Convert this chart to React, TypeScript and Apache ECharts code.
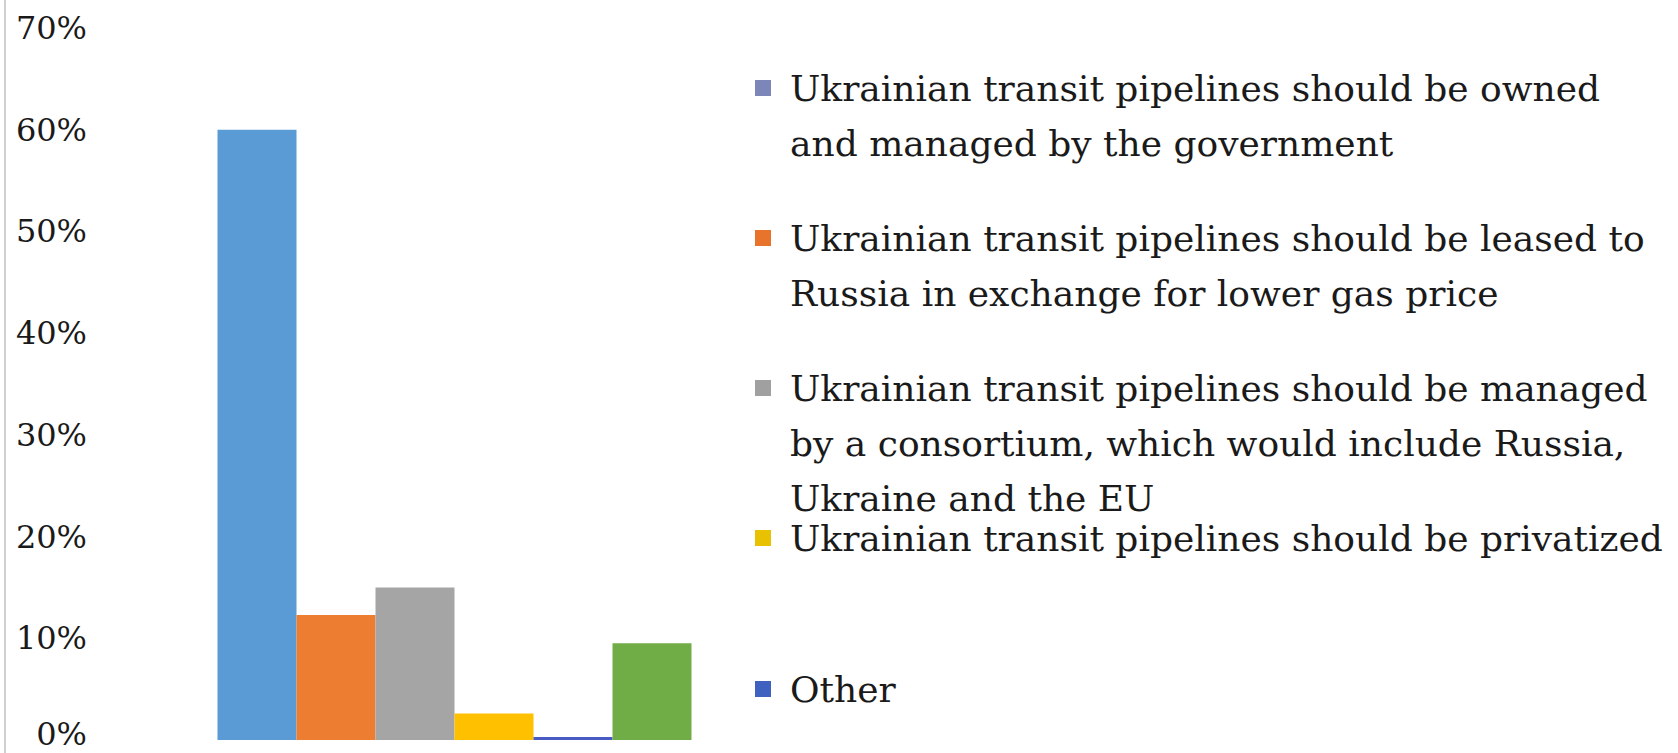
import React, { useEffect, useRef } from "react";
import * as echarts from "echarts";

const categories = [""];
const seriesNames = [
  "Ukrainian transit pipelines should be owned and managed by the government",
  "Ukrainian transit pipelines should be leased to Russia in exchange for lower gas price",
  "Ukrainian transit pipelines should be managed by a consortium, which would include Russia, Ukraine and the EU",
  "Ukrainian transit pipelines should be privatized",
  "Other",
  "No answer",
];
const legendLines = [
  ["Ukrainian transit pipelines should be owned", "and managed by the government"],
  ["Ukrainian transit pipelines should be leased to", "Russia in exchange for lower gas price"],
  ["Ukrainian transit pipelines should be managed", "by a consortium, which would include Russia,", "Ukraine and the EU"],
  ["Ukrainian transit pipelines should be privatized"],
  ["Other"],
];
const seriesValues = [0.6, 0.123, 0.15, 0.026, 0.003, 0.095];
const seriesColors = ["#5b9bd5", "#ed7d31", "#a5a5a5", "#ffc000", "#4a5ac4", "#70ad47"];
const legendIconColors = ["#7d86b8", "#e8742c", "#a0a0a0", "#e8c200", "#3f62c0"];
const yTicks = { min: 0, max: 0.7, interval: 0.1 };

const FONT = "'DejaVu Serif', serif";
const LH = 55;
const legendFirstLineY = [88, 238, 388, 538, 689];

export default function App() {
  const ref = useRef<HTMLDivElement>(null);
  useEffect(() => {
    if (!ref.current) return;
    const chart = echarts.init(ref.current, null, { renderer: "svg" });
    const legends = legendLines.map((lines, i) => {
      const n = lines.length;
      const text = "\n".repeat(n - 1) + lines.join("\n");
      return {
        show: true,
        data: [{ name: seriesNames[i], itemStyle: { color: legendIconColors[i] } }],
        left: 755,
        top: legendFirstLineY[i] - ((2 * n - 1) * LH) / 2,
        padding: 0,
        icon: "rect",
        itemWidth: 16,
        itemHeight: 16,
        selectedMode: false,
        formatter: () => text,
        textStyle: {
          fontFamily: FONT,
          fontSize: 36,
          color: "#1a1a1a",
          lineHeight: LH,
          padding: [0, 0, 0, 14],
        },
      };
    });
    chart.setOption({
      animation: false,
      backgroundColor: "#ffffff",
      grid: { left: 100, right: 869, top: 28, bottom: 13, containLabel: false },
      legend: legends,
      xAxis: {
        type: "category",
        data: categories,
        axisLine: { show: false },
        axisTick: { show: false },
        axisLabel: { show: false },
      },
      yAxis: {
        type: "value",
        min: yTicks.min,
        max: yTicks.max,
        interval: yTicks.interval,
        axisLine: { show: false },
        axisTick: { show: false },
        splitLine: { show: false },
        axisLabel: {
          margin: 13,
          fontFamily: FONT,
          fontSize: 32,
          color: "#1a1a1a",
          formatter: (v: number) => {
            const s = `${Math.round(v * 100)}%`;
            return v === 0 ? `{z|${s}}` : s;
          },
          rich: {
            z: {
              fontFamily: FONT,
              fontSize: 32,
              color: "#1a1a1a",
              padding: [0, 0, 12, 0],
            },
          },
        },
      },
      graphic: [
        {
          type: "line",
          shape: { x1: 5, y1: 0, x2: 5, y2: 753 },
          style: { stroke: "#d0d0d0", lineWidth: 2 },
          silent: true,
        },
      ],
      series: seriesNames.map((name, i) => ({
        type: "bar",
        name,
        data: [seriesValues[i]],
        barWidth: 79,
        barGap: "0%",
        itemStyle: { color: seriesColors[i] },
      })),
    });
    return () => chart.dispose();
  }, []);
  return (
    <div
      ref={ref}
      style={{ position: "absolute", left: 0, top: 0, width: 1678, height: 753 }}
    />
  );
}
